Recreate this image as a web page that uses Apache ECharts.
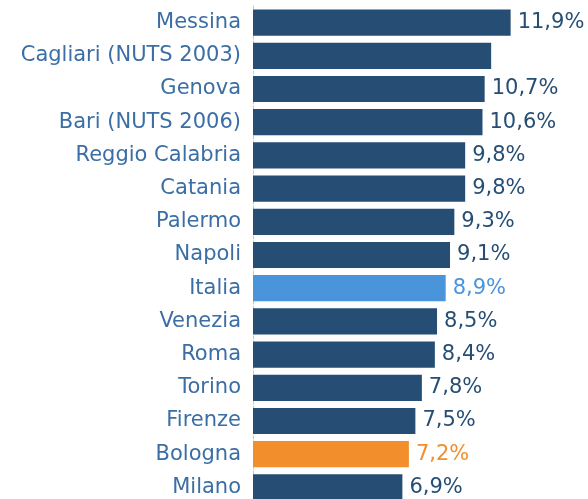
<!DOCTYPE html>
<html>
<head>
<meta charset="utf-8">
<script src="https://cdn.jsdelivr.net/npm/echarts@6/dist/echarts.min.js"></script>
<style>
  html, body { margin: 0; padding: 0; background: #fff; }
  #chart { width: 588px; height: 499px; }
</style>
</head>
<body>
<div id="chart"></div>
<script>
const cities = [
  'Messina', 'Cagliari (NUTS 2003)', 'Genova', 'Bari (NUTS 2006)', 'Reggio Calabria',
  'Catania', 'Palermo', 'Napoli', 'Italia', 'Venezia', 'Roma', 'Torino', 'Firenze',
  'Bologna', 'Milano'
]
const rates = [11.9, 11.0, 10.7, 10.6, 9.8, 9.8, 9.3, 9.1, 8.9, 8.5, 8.4, 7.8, 7.5, 7.2, 6.9]
const unlabelled = ['Cagliari (NUTS 2003)']

const baseColor = '#264e74'
const highlight = { Italia: '#4a94dc', Bologna: '#f28e2b' }
const fontFamily = 'DejaVu Sans'

const chart = echarts.init(document.getElementById('chart'))

chart.setOption({
  animation: false,
  grid: { left: 253, top: 6, width: 12 * 21.65, bottom: -5, outerBoundsMode: 'none' },
  xAxis: {
    type: 'value',
    min: 0,
    max: 12,
    show: false,
  },
  yAxis: {
    type: 'category',
    inverse: true,
    data: cities,
    axisTick: { show: false },
    axisLine: { show: true, lineStyle: { color: '#c8c8c8', type: [3, 2], width: 1 } },
    axisLabel: {
      margin: 12,
      color: '#3b6ea5',
      fontSize: 21,
      fontFamily,
    },
  },
  series: [{
    type: 'bar',
    barCategoryGap: '21%',
    data: rates.map((value, i) => {
      const color = highlight[cities[i]] || baseColor
      return {
        value,
        itemStyle: { color },
        label: {
          show: !unlabelled.includes(cities[i]),
          color,
        },
      }
    }),
    label: {
      position: 'right',
      distance: 7,
      fontSize: 21,
      fontFamily,
      formatter: (p) => p.value.toFixed(1).replace('.', ',') + '%',
    },
  }],
})
</script>
</body>
</html>
